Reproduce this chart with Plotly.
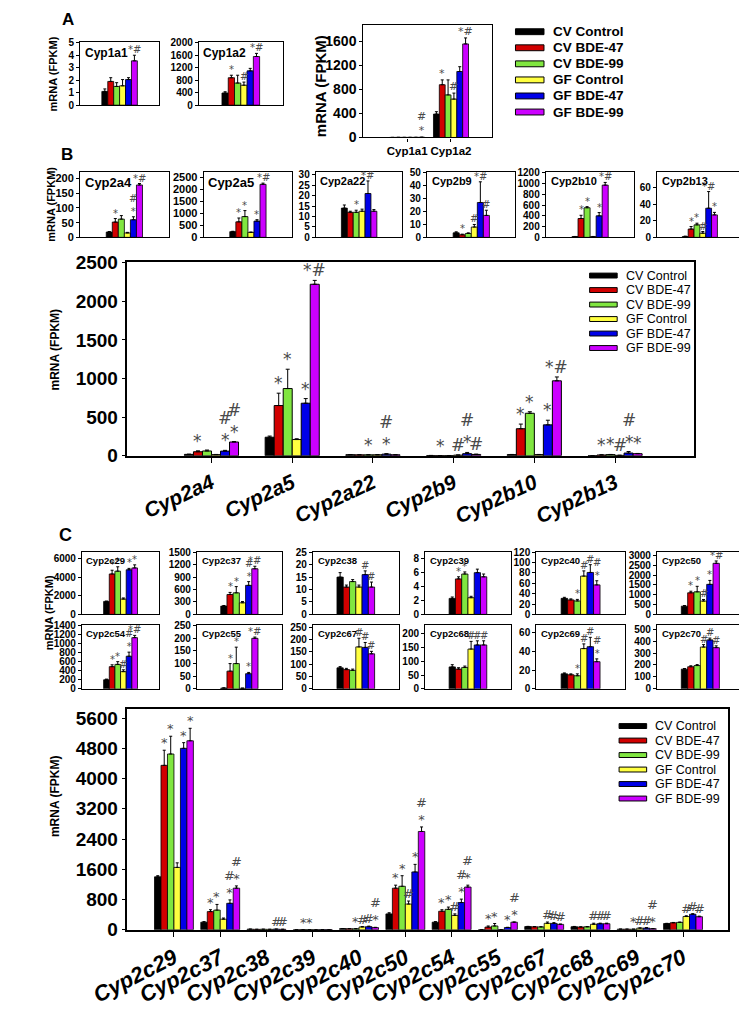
import plotly.graph_objects as go

W, H = 747, 1016
OFF = 8  # the page body adds an 8px margin; positions below are given in reference pixels
FONT = "Liberation Sans, Arial, Helvetica, sans-serif"
MARKFONT = "DejaVu Sans, sans-serif"

groups = ["CV Control", "CV BDE-47", "CV BDE-99", "GF Control", "GF BDE-47", "GF BDE-99"]
colors = ["#000000", "#d10000", "#80e640", "#ffff40", "#0000e8", "#cc00ff"]

# ---------------- Panel A data ----------------
a_genes = ["Cyp1a1", "Cyp1a2"]
a_values = [[1.1, 1.9, 1.5, 1.55, 2.05, 3.55],
            [390, 880, 710, 640, 1100, 1560]]
a_errors = [[0.2, 0.3, 0.3, 0.5, 0.15, 0.45],
            [40, 80, 250, 100, 80, 100]]
a_marks = [["", "", "", "", "", "*#"],
           ["", "*", "", "#", "", "*#"]]
a_big_marks = [["", "", "", "", "", "#\n*"],
               ["", "*", "", "#", "", "*#"]]

# ---------------- Panel B data ----------------
b_genes = ["Cyp2a4", "Cyp2a5", "Cyp2a22", "Cyp2b9", "Cyp2b10", "Cyp2b13"]
b_values = [[18, 52, 62, 15, 60, 178],
            [240, 650, 870, 210, 680, 2220],
            [14, 12, 12, 12.5, 21, 12.5],
            [3.5, 2, 3, 8, 27, 17],
            [15, 350, 550, 15, 400, 970],
            [1, 10, 15, 5, 35, 27]]
b_errors = [[2, 12, 12, 2, 10, 5],
            [15, 160, 250, 10, 60, 50],
            [1.5, 0.5, 1, 1, 6, 0.8],
            [0.8, 0.5, 0.5, 2, 16, 4],
            [2, 60, 20, 2, 60, 50],
            [0.5, 3, 2, 2, 20, 3]]
b_marks = [["", "*", "", "", "#\n*", "#\n*"],
           ["", "*", "*", "", "*", "*#"],
           ["", "", "*", "", "#\n*", ""],
           ["", "*", "", "#", "#\n*", "#"],
           ["", "*", "*", "", "*", "*#"],
           ["", "*", "*", "#", "#\n*", "*"]]
b_small_marks = [["", "*", "", "", "#\n*", "*#"],
                 ["", "*", "*", "", "*", "*#"],
                 ["", "", "*", "", "*#", ""],
                 ["", "*", "", "#", "*#", "#"],
                 ["", "*", "*", "", "*", "*#"],
                 ["", "*", "*", "#", "*#", "*"]]

# ---------------- Panel C data ----------------
c_genes = ["Cyp2c29", "Cyp2c37", "Cyp2c38", "Cyp2c39", "Cyp2c40", "Cyp2c50",
           "Cyp2c54", "Cyp2c55", "Cyp2c67", "Cyp2c68", "Cyp2c69", "Cyp2c70"]
c_values = [[1400, 4350, 4650, 1650, 4800, 5000],
            [200, 480, 520, 280, 700, 1100],
            [15, 11, 13.2, 11, 16, 11],
            [2.3, 5.1, 5.8, 2.4, 6.0, 5.4],
            [31, 28, 26, 74, 81, 57],
            [420, 1100, 1150, 680, 1530, 2600],
            [200, 490, 540, 380, 720, 1130],
            [3, 70, 100, 2, 60, 200],
            [85, 78, 75, 170, 168, 142],
            [80, 72, 78, 145, 160, 160],
            [16, 15, 14, 43, 45, 29],
            [165, 185, 195, 350, 410, 345]]
c_errors = [[30, 400, 470, 120, 150, 330],
            [15, 50, 150, 30, 90, 60],
            [1.8, 0.8, 0.8, 0.8, 1.5, 2.0],
            [0.2, 0.3, 0.3, 0.2, 0.5, 0.4],
            [2, 2, 3, 10, 15, 8],
            [30, 80, 280, 80, 200, 120],
            [15, 40, 60, 40, 90, 50],
            [1, 30, 65, 1, 5, 5],
            [5, 5, 5, 35, 20, 10],
            [8, 5, 5, 28, 15, 15],
            [1, 1, 2, 5, 10, 3],
            [5, 8, 8, 20, 15, 15]]
c_marks = [["", "*", "*", "", "*", "*"],
           ["", "*", "*", "", "#\n*", "#\n*"],
           ["", "", "", "", "#", "#"],
           ["", "*", "*", "", "", ""],
           ["", "", "*", "#", "#", "#\n*"],
           ["", "*", "*", "#", "*", "#\n*"],
           ["", "*", "*", "#", "#\n*", "#\n*"],
           ["", "*", "*", "", "*", "#\n*"],
           ["", "", "", "#", "#", "#"],
           ["", "", "", "#", "#", "#"],
           ["", "", "*", "#", "#", "#\n*"],
           ["", "", "", "#", "#", "#"]]
c_small_marks = [["", "*", "*", "", "*", "*"],
                 ["", "*", "*", "", "#\n*", "*#"],
                 ["", "", "", "", "#", "#"],
                 ["", "*", "*", "", "", ""],
                 ["", "", "*", "#", "#", "#\n*"],
                 ["", "*", "*", "#", "*", "*#"],
                 ["", "*", "*", "#", "#\n*", "*#"],
                 ["", "*", "*", "", "*", "*#"],
                 ["", "", "", "#", "#", "#"],
                 ["", "", "", "#", "#", "#"],
                 ["", "", "*", "#", "#", "#\n*"],
                 ["", "", "", "#", "#", "#"]]

# ---------------- axis settings (layout, px boxes: left, top, right, bottom) ----------------
a_small_axes = [((45, 33, 128, 97), 5.02, 1), ((170, 33, 258, 97), 2010, 400)]
b_small_axes = [((45, 165, 138, 232), 223, 50), ((175, 165, 268, 232), 2746, 500),
                ((293, 165, 384, 232), 31.4, 5), ((410, 165, 503, 232), 50.8, 10),
                ((535, 165, 628, 232), 1218, 200), ((652, 165, 742, 232), 78.8, 20)]
c_cols = [(47, 128), (168, 257), (290, 380), (408, 498), (525, 618), (652, 743)]
c_rows = [(553, 617), (628, 693)]
c_small_rng = [(6740, 2000), (1510, 300), (25.2, 5), (9.0, 2), (121, 20), (3190, 500),
               (1405, 200), (252, 50), (258, 50), (232, 50), (68, 20), (533, 100)]

fig = go.Figure()
layout_axes = {}
count = [0]


def PX(px):
    return (px - OFF) / W


def PY(py):
    return 1 - (py - OFF) / H


def bold(size, style="normal"):
    return dict(family=FONT, size=size, color="black", weight="bold", style=style)


def make_axes(box, xrange, ymax, dtick, ytick_size, lw=1.3, xticks=None, xtick_font=None,
              xtickangle=0, ticklen=3):
    count[0] += 1
    s = "" if count[0] == 1 else str(count[0])
    left, top, right, bottom = box
    xa = dict(domain=[PX(left), PX(right)], anchor="y" + s, range=xrange, type="linear",
              showline=True, mirror=True, linecolor="black", linewidth=lw,
              showgrid=False, zeroline=False)
    if xticks:
        xa.update(tickmode="array", tickvals=list(range(len(xticks))), ticktext=xticks,
                  ticks="outside", ticklen=ticklen, tickwidth=1.2, tickcolor="black",
                  tickfont=xtick_font, tickangle=xtickangle)
    else:
        xa.update(showticklabels=False, ticks="")
    ya = dict(domain=[PY(bottom), PY(top)], anchor="x" + s, range=[0, ymax],
              tick0=0, dtick=dtick, ticks="outside", ticklen=3, tickwidth=1.2,
              tickcolor="black", tickfont=bold(ytick_size), showline=True, mirror=True,
              linecolor="black", linewidth=lw, showgrid=False, zeroline=False)
    layout_axes["xaxis" + s] = xa
    layout_axes["yaxis" + s] = ya
    return "x" + s, "y" + s


def draw_bars(xid, yid, vals, errs, marks, gw, msize, lw=0.8, cap=1.5):
    bw = gw / 6.0
    n = len(vals)
    for i in range(6):
        off = -gw / 2 + i * bw
        fig.add_trace(go.Bar(
            x=list(range(n)), y=[v[i] for v in vals], width=bw, offset=off,
            marker=dict(color=colors[i], line=dict(color="black", width=lw)),
            error_y=dict(type="data", symmetric=False, array=[e[i] for e in errs],
                         arrayminus=[0] * n, color="black", thickness=1, width=cap),
            xaxis=xid, yaxis=yid, showlegend=False, name=groups[i]))
        for g in range(n):
            m = marks[g][i]
            if m:
                fig.add_annotation(x=g + off + bw / 2, y=vals[g][i] + errs[g][i],
                                   xref=xid, yref=yid, text=m.replace("\n", "<br>"),
                                   showarrow=False, yanchor="bottom", yshift=-2,
                                   font=dict(family=MARKFONT, size=msize, color="#4a4a4a"))


def title_in(xid, yid, text, size):
    fig.add_annotation(x=0.03, y=0.98, xref=xid + " domain", yref=yid + " domain",
                       text=text, showarrow=False, xanchor="left", yanchor="top",
                       font=bold(size))


def paper_text(px, py, text, size, angle=0, weight="bold", xanchor="center"):
    fig.add_annotation(x=PX(px), y=PY(py), xref="paper", yref="paper", text=text,
                       showarrow=False, textangle=angle, xanchor=xanchor, yanchor="middle",
                       font=dict(family=FONT, size=size, color="black", weight=weight))


def legend(x0, y0, dy, sw, sh, fsize, weight):
    for i in range(6):
        yc = y0 + i * dy
        fig.add_shape(type="rect", xref="paper", yref="paper", x0=PX(x0), x1=PX(x0 + sw),
                      y0=PY(yc + sh / 2), y1=PY(yc - sh / 2),
                      fillcolor=colors[i], line=dict(color="black", width=1))
        paper_text(x0 + sw + 7, yc, groups[i], fsize, weight=weight, xanchor="left")


# ---------------- Panel A ----------------
for k, (box, ymax, dt) in enumerate(a_small_axes):
    xid, yid = make_axes(box, [-0.5, 0.5], ymax, dt, 10)
    draw_bars(xid, yid, [a_values[k]], [a_errors[k]], [a_marks[k]], 0.45, 10)
    title_in(xid, yid, a_genes[k], 12)

xid, yid = make_axes((343, 15, 478, 130), [-1.0, 1.93], 1878, 400, 14,
                     xticks=a_genes, xtick_font=bold(11.5))
draw_bars(xid, yid, a_values, a_errors, a_big_marks, 0.8, 11)
legend(503, 22, 16.4, 30, 6, 13.5, "bold")
paper_text(32, 10, "A", 17)
paper_text(16, 65, "mRNA (FPKM)", 11, angle=-90)
paper_text(298, 78, "mRNA (FPKM)", 15, angle=-90)

# ---------------- Panel B ----------------
for k, (box, ymax, dt) in enumerate(b_small_axes):
    xid, yid = make_axes(box, [-0.5, 0.5], ymax, dt, 11 if k < 2 else 10)
    draw_bars(xid, yid, [b_values[k]], [b_errors[k]], [b_small_marks[k]], 0.41, 10)
    title_in(xid, yid, b_genes[k], 13 if k < 2 else 11)

xid, yid = make_axes((94, 257, 691, 455), [-1.05, 5.98], 2510, 500, 19, lw=2,
                     xticks=b_genes, xtick_font=bold(21, "italic"), xtickangle=-25,
                     ticklen=5)
draw_bars(xid, yid, b_values, b_errors, b_marks, 0.67, 17, lw=1, cap=2)
legend(581, 271, 14.8, 29, 5, 12.5, "normal")
paper_text(31, 147, "B", 17)
paper_text(14, 198, "mRNA (FPKM)", 11, angle=-90)
paper_text(18, 347, "mRNA (FPKM)", 12, angle=-90)

# ---------------- Panel C ----------------
for k in range(12):
    r, c = divmod(k, 6)
    box = (c_cols[c][0], c_rows[r][0], c_cols[c][1], c_rows[r][1])
    ymax, dt = c_small_rng[k]
    xid, yid = make_axes(box, [-0.5, 0.5], ymax, dt, 10)
    draw_bars(xid, yid, [c_values[k]], [c_errors[k]], [c_small_marks[k]], 0.44, 10)
    title_in(xid, yid, c_genes[k], 9.5)

xid, yid = make_axes((94, 714, 727, 939), [-1.02, 11.98], 5830, 800, 19, lw=2,
                     xticks=c_genes, xtick_font=bold(22, "italic"), xtickangle=-27,
                     ticklen=5)
draw_bars(xid, yid, c_values, c_errors, c_marks, 0.84, 13, lw=0.8, cap=1.5)
legend(612, 731, 14.8, 29, 5, 12.5, "normal")
paper_text(30, 536, "C", 18)
paper_text(13, 615, "mRNA (FPKM)", 11, angle=-90)
paper_text(18, 803, "mRNA (FPKM)", 12, angle=-90)

fig.update_layout(width=W, height=H, autosize=False,
                  margin=dict(l=0, r=0, t=0, b=0, pad=0),
                  paper_bgcolor="white", plot_bgcolor="white",
                  barmode="overlay", showlegend=False,
                  font=dict(family=FONT, color="black"),
                  **layout_axes)

fig.write_html("out.html")
